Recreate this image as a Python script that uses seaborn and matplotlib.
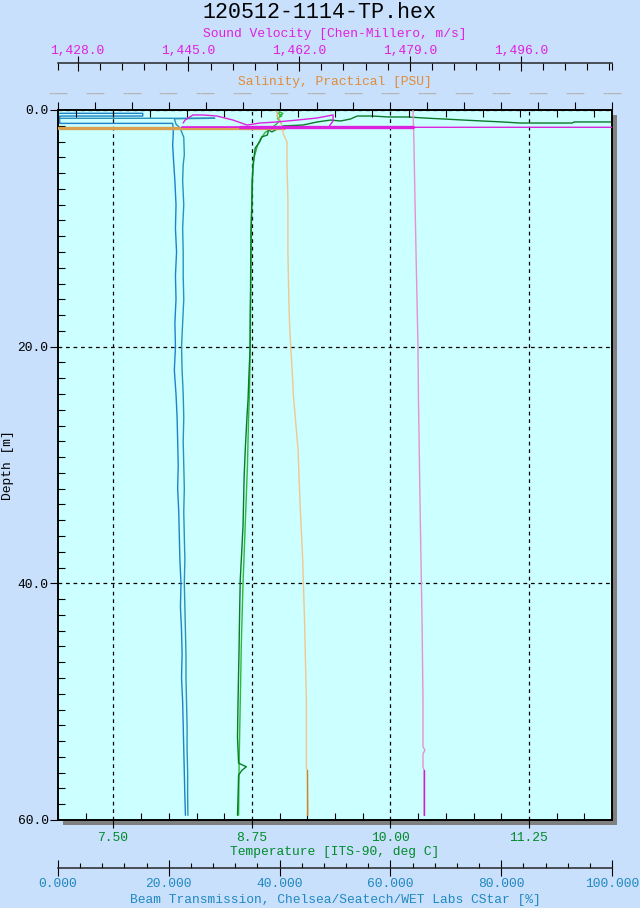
import numpy as np
import pandas as pd
import matplotlib
matplotlib.use("Agg")
import matplotlib.pyplot as plt
import seaborn as sns
from matplotlib.patches import Rectangle
from matplotlib.ticker import FixedLocator, MultipleLocator, FuncFormatter, FormatStrFormatter

sns.set_style("ticks")
MONO = ["Liberation Mono", "DejaVu Sans Mono"]
plt.rcParams["font.family"] = MONO

# ---------------- text ----------------
title = "120512-1114-TP.hex"
depth_label = "Depth [m]"
temp_label = "Temperature [ITS-90, deg C]"
sal_label = "Salinity, Practical [PSU]"
sv_label = "Sound Velocity [Chen-Millero, m/s]"
bt_label = "Beam Transmission, Chelsea/Seatech/WET Labs CStar [%]"

# ---------------- axes ticks ----------------
depth_ticks = [0, 20, 40, 60]
temp_ticks = [7.5, 8.75, 10.0, 11.25]
sv_ticks = [1428, 1445, 1462, 1479, 1496]
bt_ticks = [0, 20, 40, 60, 80, 100]

# ---------------- data ----------------
# Beam transmission (%), two casts
bt_a_depth = [0.28, 0.28, 0.51, 0.51, 1.13, 1.13,
              1.6, 2.0, 3.0, 4.6, 6, 8, 10, 12, 14, 16, 18, 20, 22, 24, 26, 28, 30, 32,
              34, 36, 38, 40, 42, 44, 46, 48, 50, 52, 54, 56, 58, 59.6]
bt_a_val = [0.3, 15.3, 15.3, 0.3, 0.3, 20.7,
            20.8, 20.8, 20.7, 20.9, 21.1, 21.3, 21.2, 21.4, 21.2, 21.3, 21.1, 21.2, 21.0, 21.3,
            21.5, 21.6, 21.7, 21.6, 21.8, 21.9, 22.0, 22.2, 22.1, 22.3, 22.4, 22.3, 22.5, 22.6,
            22.7, 22.8, 22.9, 23.0]
bt_b_depth = [0.70, 0.70, 0.74, 1.20, 1.5, 2.3, 3.8, 4.6, 6, 8, 10, 12, 14, 16, 18, 20, 22, 24,
              26, 28, 30, 32, 34, 36, 38, 40, 42, 44, 46, 48, 50, 52, 54, 56, 58, 59.6]
bt_b_val = [0.3, 28.3, 21.0, 21.3, 22.0, 22.7, 22.8, 22.6, 22.5, 22.7, 22.5, 22.6, 22.6, 22.7,
            22.5, 22.3, 22.4, 22.6, 22.7, 22.6, 22.7, 22.8, 22.7, 22.8, 22.9, 22.8, 22.9, 23.0,
            23.1, 23.1, 23.2, 23.3, 23.3, 23.4, 23.4, 23.45]

# Temperature (deg C)
t_down_depth = [1.01, 1.01, 1.10, 1.10, 1.01, 0.93, 0.85, 0.76, 0.68, 0.59,
                0.59, 0.51, 0.51, 0.76, 0.93, 0.85, 1.01, 1.27, 1.35, 1.85,
                1.69, 2.11, 2.28, 2.70, 2.96, 3.21, 4.65, 6.0, 8.0, 10.0,
                12.0, 15.0, 17.0, 20.3, 22.0, 24.5, 26.0, 28.7, 31.0, 35.1,
                37.0, 39.7, 42.0, 45.6, 49.9, 53.0, 55.2, 55.5, 55.8, 56.2,
                58.0, 59.6]
t_down_val = [12.05, 11.66, 11.64, 11.17, 11.01, 10.83, 10.66, 10.48, 10.31, 10.16,
              9.98, 9.84, 9.70, 9.64, 9.55, 9.46, 9.34, 9.21, 9.03, 8.93,
              8.90, 8.89, 8.84, 8.82, 8.80, 8.78, 8.76, 8.755, 8.75, 8.742,
              8.74, 8.738, 8.735, 8.733, 8.725, 8.715, 8.705, 8.69, 8.68, 8.67,
              8.66, 8.645, 8.64, 8.634, 8.625, 8.62, 8.63, 8.70, 8.66, 8.63,
              8.625, 8.62]
t_up_depth = [59.6, 55, 50, 45, 40, 35, 30, 26, 24, 20,
              15, 10, 6, 4, 3, 2.4, 1.9, 1.5, 1.2, 0.9,
              0.7, 0.5, 0.3, 0.15, 0.3, 0.5]
t_up_val = [8.63, 8.635, 8.645, 8.655, 8.67, 8.69, 8.71, 8.72, 8.728, 8.735,
            8.74, 8.745, 8.75, 8.77, 8.80, 8.83, 8.87, 8.93, 8.97, 9.00,
            8.98, 9.02, 8.99, 9.00, 9.03, 9.00]

# Salinity (PSU)
sal_soak_depth = [1.52, 1.52]
sal_soak_val = [27.0, 30.45]
sal_depth = [1.5, 2.0, 2.37, 2.7, 4.65, 7.6, 12.0, 16.06, 18.5, 19.94, 22.5, 24.2, 26.0,
             28.7, 33.0, 38.0, 43.1, 49.9, 55.6, 55.8, 59.6]
sal_val = [30.43, 30.44, 30.46, 30.48, 30.48, 30.49, 30.49, 30.50, 30.51, 30.52, 30.54,
           30.55, 30.57, 30.60, 30.62, 30.65, 30.67, 30.69, 30.69, 30.70, 30.71]
sal_top_depth = [0.1, 0.3, 0.5, 0.8, 1.2]
sal_top_val = [30.36, 30.38, 30.37, 30.40, 30.42]
sal_bot_depth = [55.8, 59.6]
sal_bot_val = [30.70, 30.70]

# Sound velocity (m/s)
sv_up_depth = [0.0, 3.0, 7.6, 12.0, 16.0, 20.0, 24.5, 30.0, 33.0, 38.0, 43.0, 49.9,
               53.8, 54.1, 54.4, 55.5, 55.8, 59.6]
sv_up_val = [1479.47, 1479.62, 1479.77, 1479.93, 1480.08, 1480.23, 1480.31, 1480.46,
             1480.54, 1480.69, 1480.85, 1481.00, 1481.0, 1481.3, 1481.0, 1481.0,
             1481.15, 1481.15]
sv_surf_depth = [1.10, 0.85, 0.42, 0.42, 0.51, 0.85, 1.27, 1.10, 1.01, 0.85, 0.68, 0.42,
                 0.93, 1.46, 1.46, 1.46]
sv_surf_val = [1444.2, 1444.5, 1445.7, 1447.25, 1449.4, 1451.85, 1454.0, 1456.0, 1458.6,
               1461.7, 1464.7, 1467.2, 1467.2, 1466.5, 1444.0, 1511.0]
sv_soak_depth = [1.46, 1.46]
sv_soak_val = [1453.0, 1479.5]
sv_bot_depth = [55.8, 59.6]
sv_bot_val = [1481.15, 1481.15]

# ---------------- colours ----------------
FIG_BG = "#c8e0fc"
PLOT_BG = "#ccffff"
SV_TXT = "#e020e0"
SAL_TXT = "#e08c3a"
T_TXT = "#008a2a"
BT_TXT = "#2288c0"

# ---------------- figure ----------------
W, H = 640, 908
fig = plt.figure(figsize=(6.4, 9.08), dpi=100, facecolor=FIG_BG)
L, R, T, B = 58, 612, 110, 820
ax = fig.add_axes([L / W, (H - B) / H, (R - L) / W, (B - T) / H])
ax.set_facecolor(PLOT_BG)

# drop shadow
fig.patches.append(Rectangle(((L + 5) / W, (H - B - 5) / H), (R - L) / W, (B - T) / H,
                             transform=fig.transFigure, facecolor="#808080",
                             edgecolor="none", zorder=-1))

ax_bt = ax.twiny()
ax_sal = ax.twiny()
ax_sv = ax.twiny()


def prof(axis, vals, depths, color, lw=1.0):
    sns.lineplot(x=vals, y=depths, sort=False, estimator=None, ax=axis,
                 color=color, linewidth=lw, legend=False)


# beam transmission
prof(ax_bt, bt_a_val, bt_a_depth, "#1e82c8")
prof(ax_bt, bt_b_val, bt_b_depth, "#2a92b8")
# temperature
prof(ax, t_up_val, t_up_depth, "#2fb83a")
prof(ax, t_down_val, t_down_depth, "#0a7a28")
# salinity
prof(ax_sal, sal_soak_val, sal_soak_depth, "#d9a04f", lw=2.4)
prof(ax_sal, sal_val, sal_depth, "#f2c68c")
prof(ax_sal, sal_top_val, sal_top_depth, "#d9b070")
prof(ax_sal, sal_bot_val, sal_bot_depth, "#c8862e")
# sound velocity
prof(ax_sv, sv_up_val, sv_up_depth, "#e890d4")
prof(ax_sv, sv_surf_val, sv_surf_depth, "#dd22dd")
prof(ax_sv, sv_soak_val, sv_soak_depth, "#dd22dd", lw=2.4)
prof(ax_sv, sv_bot_val, sv_bot_depth, "#cc22cc")

# ---------------- limits ----------------
ax.set_xlim(7, 12)
ax.set_ylim(60, 0)
ax_bt.set_xlim(0, 100)
ax_sal.set_xlim(28, 34)
ax_sv.set_xlim(1425, 1510)

FS = 9.4
# ---- main axis: temperature (bottom), depth (left)
ax.xaxis.set_major_locator(FixedLocator(temp_ticks))
ax.xaxis.set_minor_locator(FixedLocator(np.arange(7.0, 12.01, 0.25)))
ax.xaxis.set_major_formatter(FormatStrFormatter("%.2f"))
ax.yaxis.set_major_locator(FixedLocator(depth_ticks))
ax.yaxis.set_minor_locator(FixedLocator(np.arange(0, 60.01, 20 / 15)))
ax.yaxis.set_major_formatter(FormatStrFormatter("%.1f"))
ax.tick_params(axis="x", which="major", direction="out", length=5.8, width=0.8,
               color="black", labelcolor=T_TXT, labelsize=FS, pad=2.6,
               bottom=True, top=False)
ax.tick_params(axis="x", which="minor", direction="in", length=5, width=0.8,
               color="black", bottom=True, top=False)
ax.tick_params(axis="y", which="major", direction="out", length=5.8, width=0.8,
               color="black", labelcolor="black", labelsize=FS, pad=1.0,
               left=True, right=False)
ax.tick_params(axis="y", which="minor", direction="in", length=5, width=0.8,
               color="black", left=True, right=False)
ax.grid(True, which="major", color="black", linestyle=(0, (3, 3)), linewidth=0.9)
for s in ax.spines.values():
    s.set_visible(True)
    s.set_color("black")
    s.set_linewidth(1.4)
ax.set_xlabel(temp_label, color=T_TXT, fontsize=FS)
ax.xaxis.set_label_coords(0.5, (B - 852) / (B - T))
ax.xaxis.label.set_verticalalignment("center")
ax.set_ylabel(depth_label, color="black", fontsize=FS)
ax.yaxis.set_label_coords((8 - L) / (R - L), 0.5)
ax.yaxis.label.set_verticalalignment("center")

# ---- salinity (top spine of plot)
ax_sal.xaxis.set_ticks_position("top")
ax_sal.xaxis.set_major_locator(FixedLocator(np.arange(28.0, 34.01, 0.4)))
ax_sal.xaxis.set_minor_locator(FixedLocator(np.arange(28.2, 34.0, 0.4)))
ax_sal.xaxis.set_major_formatter(FuncFormatter(lambda v, p: "-\u2014"))
ax_sal.tick_params(axis="x", which="major", direction="out", length=5.8, width=0.8,
                   color="black", labelcolor="#b4b4b4", labelsize=10.5, pad=0.5,
                   labelfontfamily="DejaVu Sans")
ax_sal.tick_params(axis="x", which="minor", direction="in", length=4.8, width=0.8,
                   color="black")
for s in ax_sal.spines.values():
    s.set_visible(False)
ax_sal.set_xlabel(sal_label, color=SAL_TXT, fontsize=FS)
ax_sal.xaxis.set_label_coords(0.5, (B - 82) / (B - T))
ax_sal.xaxis.label.set_verticalalignment("center")

# ---- sound velocity (separate axis above)
ax_sv.xaxis.set_ticks_position("top")
ax_sv.spines["top"].set_position(("axes", (B - 62.5) / (B - T)))
for k in ("left", "right", "bottom"):
    ax_sv.spines[k].set_visible(False)
ax_sv.spines["top"].set_linewidth(1.1)
ax_sv.xaxis.set_major_locator(FixedLocator(sv_ticks))
sv_minor = list(np.arange(1428, 1510, 3.4)) + [1425, 1510]
ax_sv.xaxis.set_minor_locator(FixedLocator(sv_minor))
ax_sv.xaxis.set_major_formatter(FuncFormatter(lambda v, p: f"{v:,.1f}"))
ax_sv.tick_params(axis="x", which="major", direction="inout", length=10.8, width=0.8,
                  color="black", labelcolor=SV_TXT, labelsize=FS, pad=-1.5)
ax_sv.tick_params(axis="x", which="minor", direction="in", length=5, width=0.8,
                  color="black")
ax_sv.set_xlabel(sv_label, color=SV_TXT, fontsize=FS)
ax_sv.xaxis.set_label_coords(0.5, (B - 34) / (B - T))
ax_sv.xaxis.label.set_verticalalignment("center")

# ---- beam transmission (separate axis below)
ax_bt.xaxis.set_ticks_position("bottom")
ax_bt.xaxis.set_label_position("bottom")
ax_bt.spines["bottom"].set_position(("axes", (B - 868) / (B - T)))
for k in ("left", "right", "top"):
    ax_bt.spines[k].set_visible(False)
ax_bt.spines["bottom"].set_linewidth(1.1)
ax_bt.xaxis.set_major_locator(FixedLocator(bt_ticks))
ax_bt.xaxis.set_minor_locator(MultipleLocator(4))
ax_bt.xaxis.set_major_formatter(FormatStrFormatter("%.3f"))
ax_bt.tick_params(axis="x", which="major", direction="inout", length=11.5, width=0.8,
                  color="black", labelcolor=BT_TXT, labelsize=FS, pad=1.6)
ax_bt.tick_params(axis="x", which="minor", direction="in", length=3.6, width=0.8,
                  color="black")
ax_bt.set_xlabel(bt_label, color=BT_TXT, fontsize=FS)
ax_bt.xaxis.set_label_coords(0.5, (B - 900.5) / (B - T))
ax_bt.xaxis.label.set_verticalalignment("center")

fig.text(0.5, 1 - 12 / H, title, ha="center", va="center", fontsize=15.6, color="black")

fig.savefig("out.png", dpi=100, facecolor=FIG_BG)
